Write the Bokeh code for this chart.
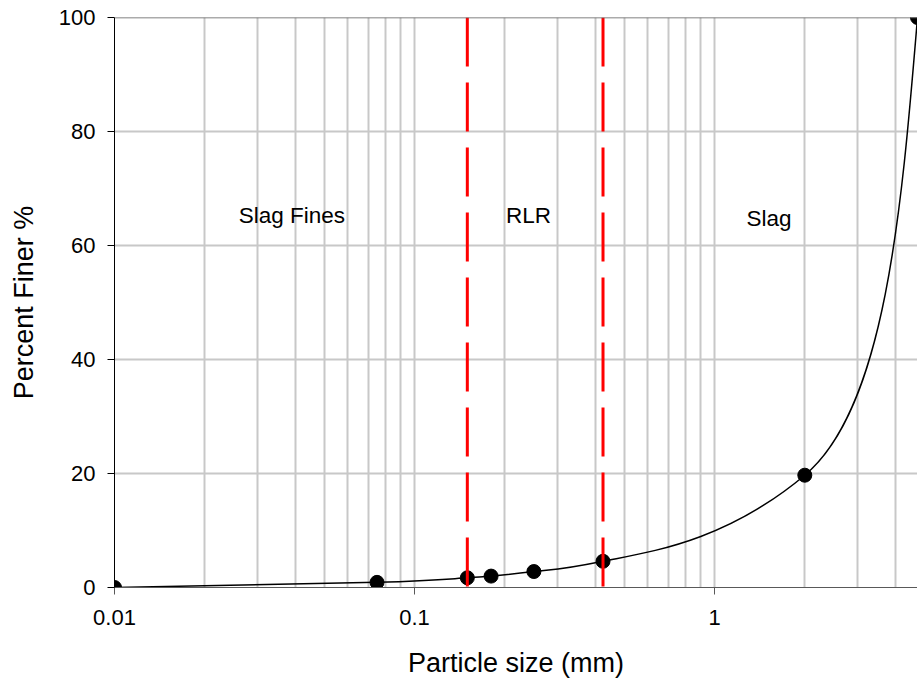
import numpy as np
from bokeh.plotting import figure
from bokeh.models import FixedTicker, Span
from bokeh.embed import file_html
from bokeh.resources import INLINE
from bokeh.core.properties import value

# ---------------- data ----------------
size_mm = [0.01, 0.075, 0.15, 0.18, 0.25, 0.425, 2.0, 4.75]
pct_finer = [0.0, 0.9, 1.7, 2.0, 2.8, 4.6, 19.7, 100.0]
boundaries = [0.15, 0.425]
zone_names = ["Slag Fines", "RLR", "Slag"]
zone_x = [0.039, 0.24, 1.52]
zone_y = [65.2, 65.2, 64.7]
x_major = [0.01, 0.1, 1]
x_minor = [m * d for d in (0.01, 0.1, 1) for m in range(2, 10) if m * d < 4.75]
y_ticks = [0, 20, 40, 60, 80, 100]

X_RANGE = (0.01, 4.75)
Y_RANGE = (0, 100)

# ---------------- layout ----------------
W, H = 917, 682
LEFT, TOP, RIGHT, BOTTOM = 114, 17, 0, 95
frame_w = W - LEFT - RIGHT
frame_h = H - TOP - BOTTOM
FONT = "Liberation Sans"


def smooth_controls(xs, ys):
    """Bezier control points of a smoothed line through the points,
    computed in screen space (log x): monotone (harmonic-mean) tangents,
    Catmull-Rom arm lengths, natural ends."""
    sx = frame_w / (np.log10(X_RANGE[1]) - np.log10(X_RANGE[0]))
    sy = frame_h / (Y_RANGE[1] - Y_RANGE[0])
    P = np.column_stack([np.log10(xs) * sx, np.asarray(ys, float) * sy])
    n = len(P)
    h = np.diff(P[:, 0])
    delta = np.diff(P[:, 1]) / h
    D = np.zeros((n, 2))
    arm = np.zeros(n)
    for k in range(1, n - 1):
        if delta[k - 1] * delta[k] > 0:
            w1 = 2 * h[k] + h[k - 1]
            w2 = h[k] + 2 * h[k - 1]
            d = (w1 + w2) / (w1 / delta[k - 1] + w2 / delta[k])
        else:
            d = 0.0
        v = np.array([1.0, d])
        D[k] = v / np.linalg.norm(v)
        arm[k] = np.linalg.norm(P[k + 1] - P[k - 1]) / 6
    c1 = np.zeros((n - 1, 2))
    c2 = np.zeros((n - 1, 2))
    for i in range(n - 1):
        if i > 0:
            c1[i] = P[i] + D[i] * arm[i]
        if i + 1 < n - 1:
            c2[i] = P[i + 1] - D[i + 1] * arm[i + 1]
    c1[0] = (P[0] + c2[0]) / 2
    c2[-1] = (c1[-1] + P[-1]) / 2

    def back(a):
        return list(10 ** (a[:, 0] / sx)), list(a[:, 1] / sy)

    return back(P[:-1]), back(P[1:]), back(c1), back(c2)


(p0x, p0y), (p1x, p1y), (c1x, c1y), (c2x, c2y) = smooth_controls(size_mm, pct_finer)

p = figure(width=W, height=H, x_axis_type="log", x_range=X_RANGE, y_range=Y_RANGE,
           output_backend="svg", toolbar_location=None,
           min_border_left=LEFT, min_border_right=RIGHT,
           min_border_top=TOP, min_border_bottom=BOTTOM)
p.background_fill_color = "white"
p.border_fill_color = "white"
p.outline_line_color = None

# grid
p.xaxis.ticker = FixedTicker(ticks=x_major, minor_ticks=x_minor)
p.yaxis.ticker = FixedTicker(ticks=y_ticks)
GRID = "#c8c8c8"
p.xgrid.grid_line_color = GRID
p.xgrid.grid_line_width = 2
p.xgrid.minor_grid_line_color = GRID
p.xgrid.minor_grid_line_width = 2
p.ygrid.grid_line_color = GRID
p.ygrid.grid_line_width = 2

# axes
for ax in (p.xaxis, p.yaxis):
    ax.major_tick_out = 7
    ax.major_tick_in = 0
    ax.minor_tick_line_color = None
    ax.major_label_text_font = FONT
    ax.major_label_text_font_size = "22px"
    ax.major_label_text_color = "black"
    ax.axis_label_text_font = FONT
    ax.axis_label_text_font_size = "27px"
    ax.axis_label_text_font_style = "normal"
    ax.axis_label_text_color = "black"
p.xaxis.axis_line_color = "#595959"
p.xaxis.major_tick_line_color = "#595959"
p.yaxis.axis_line_color = "black"
p.yaxis.major_tick_line_color = "black"
p.xaxis.major_label_standoff = 15
p.yaxis.major_label_standoff = 12
p.xaxis.axis_label = "Particle size (mm)"
p.yaxis.axis_label = "Percent Finer %"
p.xaxis.axis_label_standoff = 20
p.yaxis.axis_label_standoff = 17
p.xaxis.major_label_overrides = {0.01: "0.01", 0.1: "0.1", 1: "1"}

# top border
p.add_layout(Span(location=Y_RANGE[1], dimension="width", line_color="#595959", line_width=1.5))

# smoothed curve and points
p.bezier(x0=p0x, y0=p0y, x1=p1x, y1=p1y, cx0=c1x, cy0=c1y, cx1=c2x, cy1=c2y,
         line_color="black", line_width=1.5)
p.scatter(size_mm, pct_finer, size=14, marker="circle", fill_color="black", line_color="black")

# zone boundaries
p.segment(x0=boundaries, y0=[Y_RANGE[1]] * len(boundaries), x1=boundaries,
          y1=[Y_RANGE[0]] * len(boundaries), line_color="red", line_width=3, line_dash="49 16")

# zone labels
p.text(x=zone_x, y=zone_y, text=zone_names, text_font=value(FONT), text_font_size=value("22.5px"),
       text_align="center", text_baseline="alphabetic", text_color="black")

open("out.html", "w").write(file_html(p, INLINE))
